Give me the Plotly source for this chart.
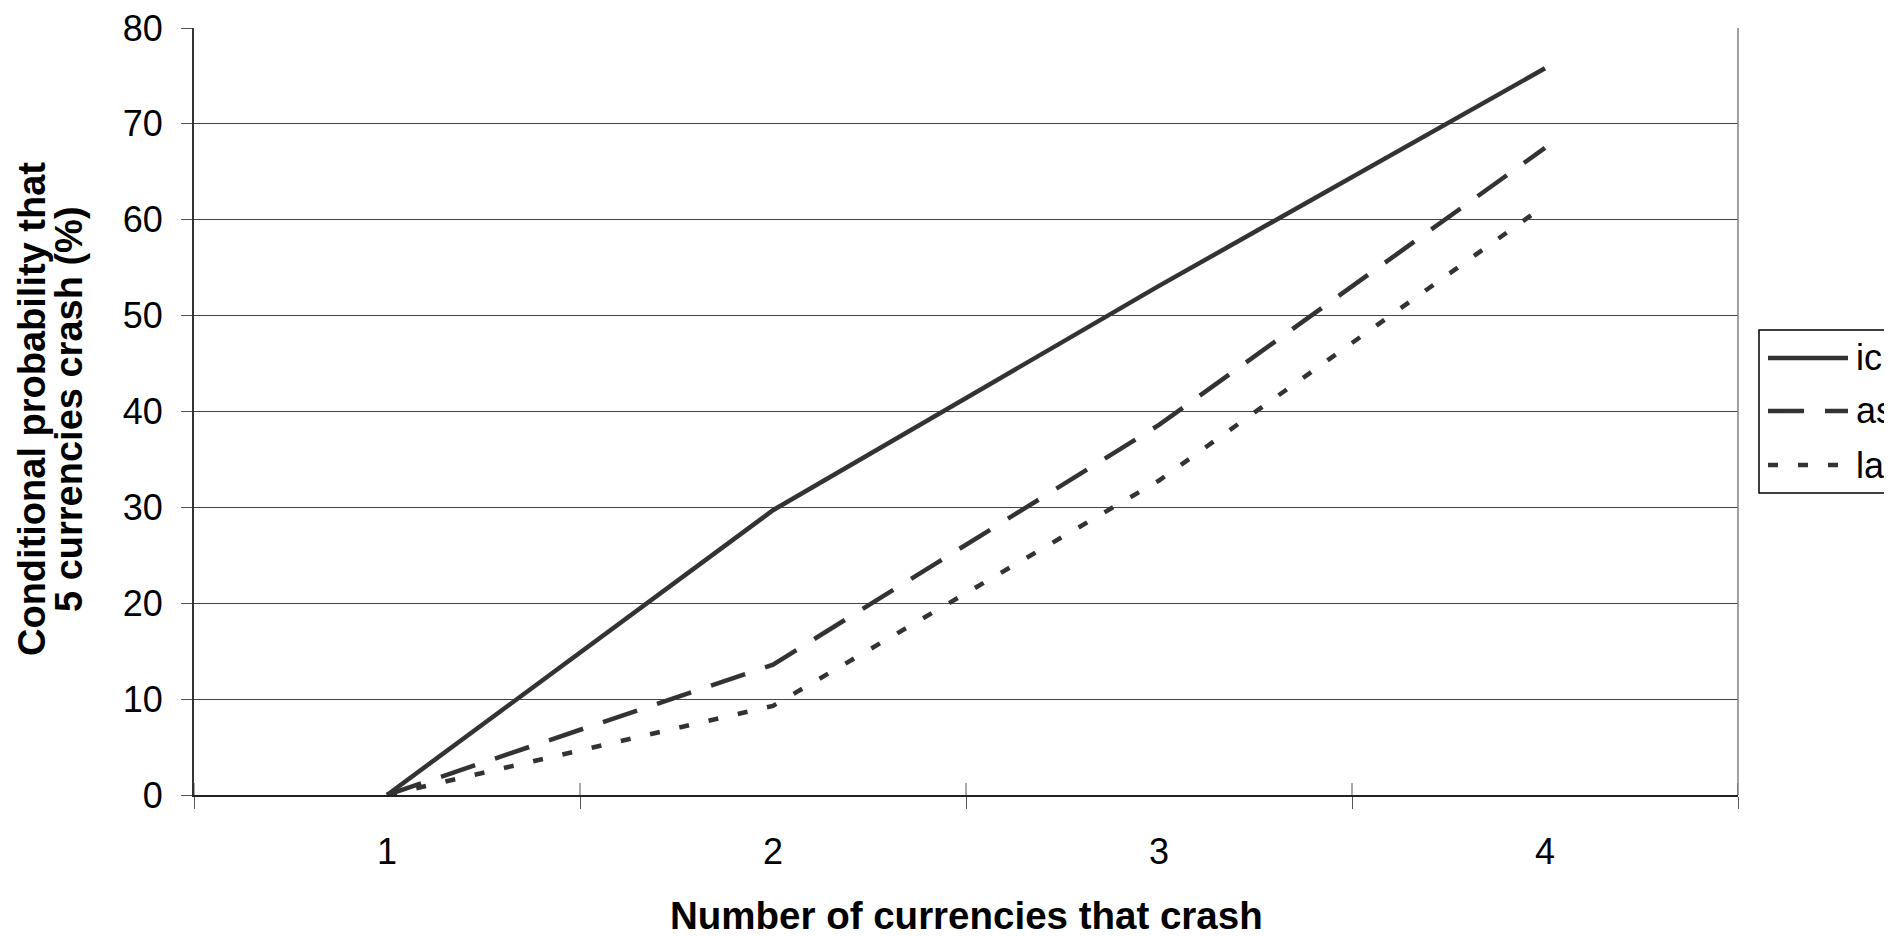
import plotly.graph_objects as go

# ---- data ----
categories = ["1", "2", "3", "4"]
ic_values = [0, 29.7, 53.1, 75.8]
as_values = [0, 13.6, 38.6, 67.5]
la_values = [0, 9.3, 32.8, 61.5]
series_names = ["ic", "as", "la"]

x_title = "Number of currencies that crash"
y_title_lines = ["Conditional probability that", "5 currencies crash (%)"]

# ---- styling ----
FONT = "Arial, Liberation Sans, sans-serif"
LINE_COLOR = "#333333"
dashes = ["solid", "36px,21px", "10px,20px"]
widths = [4.5, 4.5, 4.5]

OFF = 8  # browser body margin
W, H = 1892 - OFF, 937 - OFF
L, R, T, B = 186, 154, 20, 142
PW = W - L - R
PH = H - T - B

def sx(px):  # screen px -> paper x
    return (px - OFF - L) / PW

def sy(py):  # screen py -> paper y
    return (H - B - (py - OFF)) / PH

fig = go.Figure()
for name, vals, d, w in zip(series_names, [ic_values, as_values, la_values], dashes, widths):
    fig.add_trace(go.Scatter(
        x=categories, y=vals, mode="lines", name=name,
        line=dict(color=LINE_COLOR, width=w, dash=d),
        showlegend=False,
    ))

shapes = []
# right plot border
shapes.append(dict(type="line", xref="paper", yref="paper", x0=1, x1=1, y0=0, y1=1,
                   line=dict(color="#808080", width=1.5)))
# inner part of x category boundary ticks
for i in range(len(categories) + 1):
    shapes.append(dict(type="line", xref="x", yref="paper", x0=i - 0.5, x1=i - 0.5,
                       y0=0, y1=12 / PH, line=dict(color="#555555", width=1)))

# manual legend
leg_left, leg_top, leg_bottom = 1759, 330, 493
shapes.append(dict(type="rect", xref="paper", yref="paper",
                   x0=sx(leg_left), x1=sx(1892 + 30),
                   y0=sy(leg_bottom), y1=sy(leg_top),
                   line=dict(color="black", width=1.5), fillcolor="white", layer="above"))
legend_y = [358, 411, 465]
annotations = []
for name, d, w, yy in zip(series_names, dashes, widths, legend_y):
    shapes.append(dict(type="line", xref="paper", yref="paper",
                       x0=sx(1768), x1=sx(1848),
                       y0=sy(yy), y1=sy(yy),
                       line=dict(color=LINE_COLOR, width=w, dash=d), layer="above"))
    annotations.append(dict(text=name, xref="paper", yref="paper",
                            x=sx(1854), y=sy(yy),
                            xanchor="left", yanchor="middle", showarrow=False,
                            font=dict(family=FONT, size=36, color="black")))

# axis titles
annotations.append(dict(text=f"<b>{x_title}</b>", xref="paper", yref="paper",
                        x=0.5, y=sy(915), xanchor="center", yanchor="middle",
                        showarrow=False, font=dict(family=FONT, size=38.5, color="black")))
for line, cx in zip(y_title_lines, [32, 69]):
    annotations.append(dict(text=f"<b>{line}</b>", xref="paper", yref="paper",
                            x=sx(cx), y=sy(409),
                            xanchor="center", yanchor="middle", textangle=-90,
                            showarrow=False, font=dict(family=FONT, size=38, color="black")))

fig.update_layout(
    width=W, height=H,
    margin=dict(l=L, r=R, t=T, b=B, autoexpand=False),
    paper_bgcolor="white", plot_bgcolor="white",
    showlegend=False,
    font=dict(family=FONT, color="black"),
    shapes=shapes, annotations=annotations,
    xaxis=dict(type="category", categoryorder="array", categoryarray=categories,
               range=[-0.5, len(categories) - 0.5], tickson="boundaries",
               ticks="outside", ticklen=12, tickcolor="#555555", tickwidth=1,
               showline=True, linecolor="#222222", linewidth=1.5,
               showgrid=False, zeroline=False,
               tickfont=dict(family=FONT, size=36, color="black"),
               ticklabelstandoff=24, ticklabeloverflow="allow"),
    yaxis=dict(range=[0, 80], dtick=10, tick0=0,
               ticks="outside", ticklen=11, tickcolor="#555555", tickwidth=1,
               showline=True, linecolor="#333333", linewidth=2,
               showgrid=True, gridcolor="#444444", gridwidth=1, zeroline=False,
               tickfont=dict(family=FONT, size=36, color="black"),
               ticklabelstandoff=11, ticklabeloverflow="allow"),
)

fig.write_html("out.html")
